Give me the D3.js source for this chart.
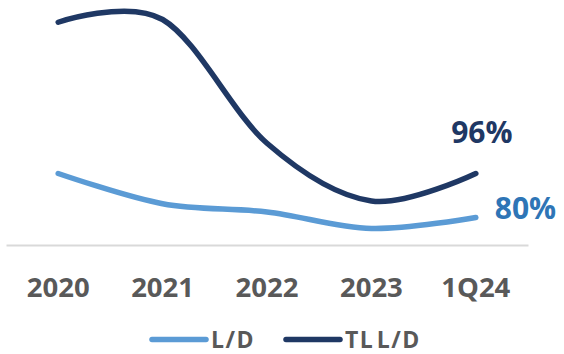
<!DOCTYPE html>
<html><head><meta charset="utf-8">
<script src="https://cdn.jsdelivr.net/npm/d3@7"></script>
<style>
html,body{margin:0;padding:0;background:#fff;}
svg{display:block;}
text{font-family:"Open Sans","Noto Sans",sans-serif;font-weight:700;}
</style></head>
<body>
<svg id="chart" width="564" height="354"></svg>
<script>
const categories = ["2020","2021","2022","2023","1Q24"];
const ldValues = [96, 85, 82, 76, 80];
const tlldValues = [151, 152, 107, 86, 96];
const seriesNames = ["L/D","TL L/D"];
const endLabels = ["80%","96%"];

const colors = {ld:"#5B9BD5", tlld:"#1F3864", ldLabel:"#2E75B6", axis:"#D9D9D9", tick:"#595959"};

const svg = d3.select("#chart");
const x = d3.scaleBand().domain(categories).range([6, 528]).padding(0);
const y = d3.scaleLinear().domain([70, 160]).range([245, -2.5]);
const cx = c => x(c) + x.bandwidth()/2;

// axis
const axisG = svg.append("g").attr("transform","translate(0,245)")
  .call(d3.axisBottom(x).tickSize(0).tickSizeOuter(0));
axisG.select(".domain").attr("stroke", colors.axis).attr("stroke-width", 2);
axisG.selectAll(".tick text")
  .attr("y", 52).attr("dy", 0)
  .attr("fill", colors.tick)
  .style("font-size","27.5px")
  .style("font-family","'Open Sans','Noto Sans',sans-serif")
  .style("font-weight","700");

const line = d3.line()
  .x((d,i) => cx(categories[i]))
  .y(d => y(d))
  .curve(d3.curveCardinal.tension(0));

svg.append("path").datum(ldValues)
  .attr("d", line).attr("fill","none")
  .attr("stroke", colors.ld).attr("stroke-width", 5.5)
  .attr("stroke-linecap","round");
svg.append("path").datum(tlldValues)
  .attr("d", line).attr("fill","none")
  .attr("stroke", colors.tlld).attr("stroke-width", 5.5)
  .attr("stroke-linecap","round");

// end labels
const lastC = categories[categories.length-1];
svg.append("text")
  .attr("x", cx(lastC) + 6).attr("y", y(tlldValues[tlldValues.length-1]) - 31)
  .attr("text-anchor","middle")
  .attr("fill", colors.tlld).style("font-size","30px")
  .text(endLabels[1]);
svg.append("text")
  .attr("x", cx(lastC) + 19).attr("y", y(ldValues[ldValues.length-1]) + 1)
  .attr("fill", colors.ldLabel).style("font-size","30px")
  .text(endLabels[0]);

// legend
const legend = [
  {name: seriesNames[0], color: colors.ld, x0: 152},
  {name: seriesNames[1], color: colors.tlld, x0: 286}
];
legend.forEach(l => {
  svg.append("line")
    .attr("x1", l.x0).attr("x2", l.x0 + 54)
    .attr("y1", 339.5).attr("y2", 339.5)
    .attr("stroke", l.color).attr("stroke-width", 5.5)
    .attr("stroke-linecap","round");
  svg.append("text")
    .attr("x", l.x0 + 59).attr("y", 347.5)
    .attr("fill", colors.tick).style("font-size","23px")
    .style("letter-spacing","1.5px")
    .style("word-spacing","-5px")
    .text(l.name);
});
</script>
</body></html>
